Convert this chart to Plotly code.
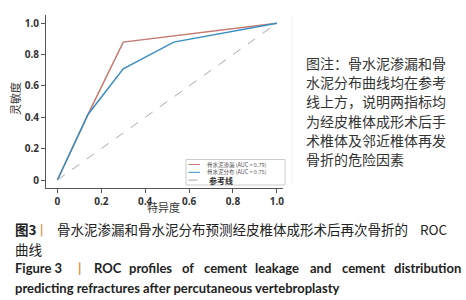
import plotly.graph_objects as go

# ---- data ----
fpr_leak = [0, 0.14, 0.30, 1.0]
tpr_leak = [0, 0.42, 0.88, 1.0]
fpr_dist = [0, 0.14, 0.30, 0.53, 1.0]
tpr_dist = [0, 0.42, 0.71, 0.88, 1.0]
ref_x = [0, 1]
ref_y = [0, 1]
names = ["骨水泥渗漏 (AUC = 0.79)", "骨水泥分布 (AUC = 0.75)", "参考线"]
colors = ["#c47a70", "#3b8ec2", "#a8a8a8"]
tick_vals = [0, 0.2, 0.4, 0.6, 0.8, 1.0]
tick_text = ["0", "0.2", "0.4", "0.6", "0.8", "1.0"]
note_lines = ["图注：骨水泥渗漏和骨", "水泥分布曲线均在参考", "线上方，说明两指标均",
              "为经皮椎体成形术后手", "术椎体及邻近椎体再发", "骨折的危险因素"]

W, H = 466, 300
def px(x): return x / W
def py(y): return 1 - y / H

fig = go.Figure()
fig.add_trace(go.Scatter(x=fpr_leak, y=tpr_leak, mode="lines", name=names[0],
                         line=dict(color=colors[0], width=1.5)))
fig.add_trace(go.Scatter(x=fpr_dist, y=tpr_dist, mode="lines", name=names[1],
                         line=dict(color=colors[1], width=1.5)))
fig.add_trace(go.Scatter(x=ref_x, y=ref_y, mode="lines", name=names[2],
                         line=dict(color=colors[2], width=1, dash="dash")))

axis_common = dict(showgrid=False, zeroline=False, showline=True, linecolor="#555",
                   linewidth=1, ticks="outside", ticklen=4, tickcolor="#555",
                   tickvals=tick_vals, ticktext=tick_text,
                   tickfont=dict(family="Open Sans", size=10, color="#333", weight="bold"))
fig.update_layout(
    width=W, height=H, margin=dict(l=0, r=0, t=0, b=0),
    paper_bgcolor="white", plot_bgcolor="white",
    xaxis=dict(domain=[px(46), px(283)], range=[-0.052, 1.028], **axis_common),
    yaxis=dict(domain=[py(188), py(15)], range=[-0.051, 1.053], **axis_common),
    showlegend=False,
)

ann = []
shapes = []
# custom compact legend
shapes.append(dict(type="rect", xref="paper", yref="paper", x0=px(186), x1=px(285),
                   y0=py(185), y1=py(159.5), line=dict(color="#cccccc", width=1),
                   fillcolor="white", layer="above"))
for i, (nm, c) in enumerate(zip(names, colors)):
    yy = 164.5 + i * 7.8
    shapes.append(dict(type="line", xref="paper", yref="paper", x0=px(188.5), x1=px(200),
                       y0=py(yy), y1=py(yy), layer="above",
                       line=dict(color=c, width=1, dash="dash" if i == 2 else "solid")))
    if i < 2:
        f = dict(family="Noto Sans CJK SC", size=5.5, color="#555")
    else:
        f = dict(family="Noto Sans CJK SC", size=8, color="#333", weight="bold")
    ann.append(dict(x=px(205 if i < 2 else 207), y=py(yy), xref="paper", yref="paper", text=nm,
                    xanchor="left", yanchor="middle", showarrow=False, font=f))
# axis titles
ann.append(dict(x=px(163), y=py(207), xref="paper", yref="paper", text="特异度",
                xanchor="center", yanchor="middle",
                showarrow=False, font=dict(family="Noto Sans CJK SC", size=11, color="#333")))
ann.append(dict(x=px(15), y=py(99), xref="paper", yref="paper", text="灵敏度", textangle=-90,
                xanchor="center", yanchor="middle",
                showarrow=False, font=dict(family="Noto Sans CJK SC", size=11, color="#333")))
# side note
for i, t in enumerate(note_lines):
    ann.append(dict(x=px(304), y=py(63 + i * 19.2), xref="paper", yref="paper", text=t,
                    xanchor="left", yanchor="middle", showarrow=False,
                    font=dict(family="Noto Sans CJK SC", size=14, color="#333")))
# caption Chinese
cf = dict(family="Noto Sans CJK SC", size=13.5, color="#222", weight="bold")
ann.append(dict(x=px(13), y=py(229), xref="paper", yref="paper", text="图3",
                xanchor="left", yanchor="middle", showarrow=False, font=cf))
ann.append(dict(x=px(42), y=py(229), xref="paper", yref="paper", text="丨",
                xanchor="center", yanchor="middle", showarrow=False,
                font=dict(family="Noto Sans CJK SC", size=13.5, color="#e08a3c")))
ann.append(dict(x=px(55), y=py(229), xref="paper", yref="paper",
                text="骨水泥渗漏和骨水泥分布预测经皮椎体成形术后再次骨折的",
                xanchor="left", yanchor="middle", showarrow=False,
                font=dict(family="Noto Sans CJK SC", size=13.5, color="#222")))
ann.append(dict(x=px(450), y=py(229), xref="paper", yref="paper", text="ROC",
                xanchor="right", yanchor="middle", showarrow=False,
                font=dict(family="Noto Sans CJK SC", size=13.5, color="#222")))
ann.append(dict(x=px(13), y=py(249), xref="paper", yref="paper", text="曲线",
                xanchor="left", yanchor="middle", showarrow=False,
                font=dict(family="Noto Sans CJK SC", size=13.5, color="#222")))
# caption English (justified line)
ef = dict(family="Lato", size=13, color="#222", weight="bold")
words = [("Figure 3", 13), ("|", 76), ("ROC", 92), ("profiles", 127), ("of", 180),
         ("cement", 202), ("leakage", 253), ("and", 308), ("cement", 340), ("distribution", 392)]
for w, x in words:
    ann.append(dict(x=px(x), y=py(268), xref="paper", yref="paper", text=w,
                    xanchor="left", yanchor="middle", showarrow=False,
                    font=dict(ef, color="#e08a3c") if w == "|" else ef))
ann.append(dict(x=px(13), y=py(288), xref="paper", yref="paper",
                text="predicting refractures after percutaneous vertebroplasty",
                xanchor="left", yanchor="middle", showarrow=False, font=ef))
shapes.append(dict(type="line", xref="paper", yref="paper", x0=px(292), x1=px(292),
                   y0=py(185), y1=py(15), line=dict(color="#eeeeee", width=1)))
fig.update_layout(annotations=ann, shapes=shapes)

fig.write_html("out.html", config={"displayModeBar": False},
               post_script="document.body.style.margin='0';")
